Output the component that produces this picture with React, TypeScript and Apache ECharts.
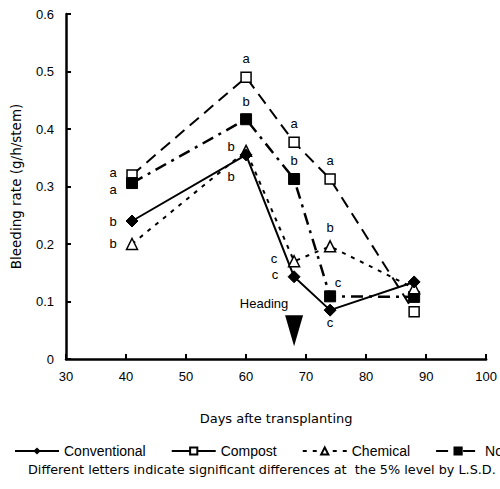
import React, { useEffect, useRef } from "react";
import * as echarts from "echarts";

// ---- data ----
const days = [41, 60, 68, 74, 88];
const conventional = [0.24, 0.355, 0.143, 0.085, 0.134];
const compost = [0.32, 0.49, 0.377, 0.313, 0.082];
const chemical = [0.2, 0.362, 0.17, 0.196, 0.123];
const nonFertilized = [0.306, 0.417, 0.313, 0.109, 0.108];

const conventionalLetters = ["b", "b", "c", "c", ""];
const compostLetters = ["a", "a", "a", "a", ""];
const chemicalLetters = ["b", "b", "c", "b", ""];
const nonLetters = ["a", "b", "b", "c", ""];

const seriesNames = ["Conventional", "Compost", "Chemical", "Non-fertilized"];
const headingDay = 68;
const headingValue = 0.049;
const headingText = "Heading";
const xAxisTitle = "Days afte transplanting";
const yAxisTitle = "Bleeding rate (g/h/stem)";
const footnote =
  "Different letters indicate significant differences at  the 5% level by L.S.D.";

// ---- styles ----
const FONT = "'Liberation Sans', Arial, sans-serif";
const WIDE = "'DejaVu Sans', 'Liberation Sans', sans-serif";
const conventionalOffsets = [[-19, 0], [-15, 22], [-19, -2], [0, 12], [0, 0]];
const compostOffsets = [[-19, -3], [0, -19], [0, -19], [0, -19], [0, 0]];
const chemicalOffsets = [[-19, -1], [-15, -4], [-20, -3], [0, -19], [0, 0]];
const nonOffsets = [[-19, 6], [0, -18], [0, -19], [8, -14], [0, 0]];

const letterStyle = {
  color: "#000",
  fontSize: 13,
  fontFamily: FONT,
  textBorderWidth: 0,
};

function buildData(values: number[], letters: string[], offsets: number[][]) {
  return days.map((d, i) => ({
    value: [d, values[i]],
    label: {
      show: letters[i] !== "",
      formatter: letters[i],
      position: "inside",
      offset: offsets[i],
      ...letterStyle,
    },
  }));
}

export default function App() {
  const ref = useRef<HTMLDivElement>(null);
  useEffect(() => {
    if (!ref.current) return;
    const chart = echarts.init(ref.current, null, { renderer: "svg" });
    const common = {
      type: "line",
      animation: false,
      emphasis: { disabled: true },
      label: { position: "inside", ...letterStyle },
      z: 3,
    };
    chart.setOption({
      animation: false,
      textStyle: { fontFamily: FONT },
      grid: { left: 66, right: 12, top: 14, bottom: 130 },
      xAxis: {
        type: "value",
        min: 30,
        max: 100,
        interval: 10,
        name: xAxisTitle,
        nameLocation: "middle",
        nameGap: 53,
        nameTextStyle: { fontSize: 13, color: "#000", fontFamily: WIDE },
        axisLine: { lineStyle: { color: "#000", width: 2.5 } },
        axisTick: { inside: true, length: 5, lineStyle: { color: "#000", width: 2 } },
        axisLabel: { color: "#000", fontSize: 13, margin: 11, fontFamily: FONT },
        splitLine: { show: false },
      },
      yAxis: {
        type: "value",
        min: 0,
        max: 0.6,
        interval: 0.1,
        name: yAxisTitle,
        nameLocation: "middle",
        nameGap: 43,
        nameTextStyle: { fontSize: 13.5, color: "#000", fontFamily: WIDE },
        axisLine: { show: true, lineStyle: { color: "#000", width: 2.5 } },
        axisTick: { show: true, inside: true, length: 5, lineStyle: { color: "#000", width: 2 } },
        axisLabel: {
          color: "#000",
          fontSize: 13,
          margin: 12,
          fontFamily: FONT,
          formatter: (v: number) => (v === 0 ? "0" : v.toFixed(1)),
        },
        splitLine: { show: false },
      },
      legend: {
        left: 14,
        top: 444,
        padding: 0,
        width: 1200,
        itemWidth: 44,
        itemHeight: 9,
        itemGap: 25,
        textStyle: { fontSize: 14, color: "#000", fontFamily: FONT },
        data: [
          { name: seriesNames[0] },
          { name: seriesNames[1], lineStyle: { type: "solid" } },
          { name: seriesNames[2] },
          { name: seriesNames[3] },
        ],
      },
      graphic: [
        {
          type: "text",
          left: 28,
          top: 463,
          style: { text: footnote, fontSize: 12.8, fill: "#000", fontFamily: WIDE },
        },
      ],
      series: [
        {
          ...common,
          name: seriesNames[1],
          data: buildData(compost, compostLetters, compostOffsets),
          symbol: "rect",
          symbolSize: 10,
          lineStyle: { color: "#000", width: 2, type: [12, 7] },
          itemStyle: { color: "#fff", borderColor: "#000", borderWidth: 1.5 },
        },
        {
          ...common,
          name: seriesNames[3],
          data: buildData(nonFertilized, nonLetters, nonOffsets),
          symbol: "rect",
          symbolSize: 11,
          lineStyle: { color: "#000", width: 2.5, type: [12, 6, 3, 6] },
          itemStyle: { color: "#000", borderColor: "#000", borderWidth: 1 },
        },
        {
          ...common,
          name: seriesNames[2],
          data: buildData(chemical, chemicalLetters, chemicalOffsets),
          symbol: "triangle",
          symbolSize: 11,
          lineStyle: { color: "#000", width: 2, type: [4, 6] },
          itemStyle: { color: "#fff", borderColor: "#000", borderWidth: 1.5 },
        },
        {
          ...common,
          name: seriesNames[0],
          data: buildData(conventional, conventionalLetters, conventionalOffsets),
          symbol: "diamond",
          symbolSize: 12,
          lineStyle: { color: "#000", width: 2 },
          itemStyle: { color: "#000", borderColor: "#000" },
          markPoint: {
            symbol: "path://M0,0L20,0L10,34Z",
            symbolSize: [18, 31],
            symbolKeepAspect: false,
            itemStyle: { color: "#000" },
            label: {
              show: true,
              formatter: headingText,
              position: "inside",
              offset: [-30, -27],
              color: "#000",
              fontSize: 13,
              fontFamily: FONT,
              textBorderWidth: 0,
            },
            data: [{ coord: [headingDay, headingValue] }],
          },
        },
      ],
    });
    return () => chart.dispose();
  }, []);
  return (
    <div
      ref={ref}
      style={{ position: "fixed", left: 0, top: 0, width: 500, height: 489, background: "#fff" }}
    />
  );
}
